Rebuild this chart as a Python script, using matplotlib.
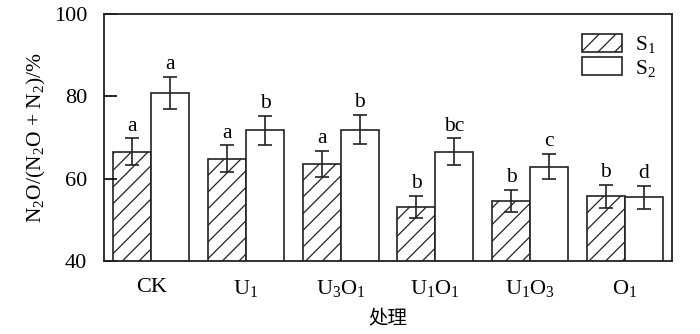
import numpy as np
import matplotlib.pyplot as plt

plt.rcParams['font.family'] = ['Liberation Serif', 'Noto Sans CJK SC']
plt.rcParams['mathtext.fontset'] = 'custom'
plt.rcParams['mathtext.rm'] = 'Liberation Serif'
plt.rcParams['mathtext.it'] = 'Liberation Serif:italic'
plt.rcParams['hatch.linewidth'] = 0.9

# treatments and measured ratios
treatments = ['CK', r'U$_1$', r'U$_3$O$_1$', r'U$_1$O$_1$', r'U$_1$O$_3$', r'O$_1$']
s1_mean = [66.5, 64.8, 63.6, 53.2, 54.6, 55.7]
s1_err = [3.3, 3.3, 3.2, 2.7, 2.7, 2.8]
s2_mean = [80.8, 71.7, 71.9, 66.5, 62.9, 55.5]
s2_err = [4.0, 3.6, 3.6, 3.3, 3.1, 2.8]
s1_sig = ['a', 'a', 'a', 'b', 'b', 'b']
s2_sig = ['a', 'b', 'b', 'bc', 'c', 'd']

fig = plt.figure(figsize=(7, 3.34), dpi=100)
ax = fig.add_axes([0.1486, 0.2186, 0.8114, 0.7395])

x = np.arange(len(treatments))
w = 0.4
ekw = dict(ecolor='#222222', elinewidth=1.2, capsize=5, capthick=1.2)

ax.bar(x - w / 2, s1_mean, w, yerr=s1_err, color='white', edgecolor='#222222',
       hatch='//', linewidth=1.2, error_kw=ekw, label=r'S$_1$')
ax.bar(x + w / 2, s2_mean, w, yerr=s2_err, color='white', edgecolor='#222222',
       linewidth=1.2, error_kw=ekw, label=r'S$_2$')

# significance letters above the error bars
for i in range(len(treatments)):
    ax.text(x[i] - w / 2, s1_mean[i] + s1_err[i] + 0.6, s1_sig[i],
            ha='center', va='bottom', fontsize=15.5)
    ax.text(x[i] + w / 2, s2_mean[i] + s2_err[i] + 0.6, s2_sig[i],
            ha='center', va='bottom', fontsize=15.5)

ax.set_xlim(-0.5, len(treatments) - 0.5)
ax.set_ylim(40, 100)
ax.set_yticks([40, 60, 80, 100])
ax.set_xticks(x)
ax.set_xticklabels(treatments)
ax.tick_params(axis='y', direction='in', length=9, width=1.2, labelsize=16, pad=12)
ax.tick_params(axis='x', length=0, labelsize=16, pad=12)
for s in ax.spines.values():
    s.set_linewidth(1.3)
    s.set_color('#222222')

ax.set_ylabel(r'N$_2$O/(N$_2$O + N$_2$)/%', fontsize=15.5, labelpad=4)
ax.set_xlabel('处理', fontsize=14, labelpad=6, family='Noto Sans CJK SC')

ax.legend(loc='upper right', bbox_to_anchor=(0.987, 0.955), frameon=False,
          fontsize=15.5, handlelength=1.85, handleheight=0.9, labelspacing=0.1,
          handletextpad=0.6, borderaxespad=0)

fig.savefig('out.png', dpi=100)
